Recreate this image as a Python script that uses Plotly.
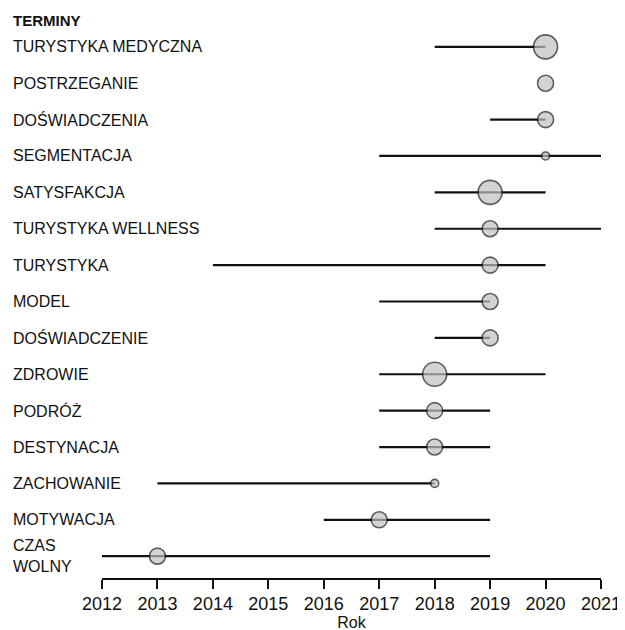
import plotly.graph_objects as go

terms = ["TURYSTYKA MEDYCZNA", "POSTRZEGANIE", "DOŚWIADCZENIA", "SEGMENTACJA",
         "SATYSFAKCJA", "TURYSTYKA WELLNESS", "TURYSTYKA", "MODEL",
         "DOŚWIADCZENIE", "ZDROWIE", "PODRÓŻ", "DESTYNACJA", "ZACHOWANIE",
         "MOTYWACJA", "CZAS<br>WOLNY"]
year_start = [2018, 2020, 2019, 2017, 2018, 2018, 2014, 2017, 2018, 2017, 2017, 2017, 2013, 2016, 2012]
year_end = [2020, 2020, 2020, 2021, 2020, 2021, 2020, 2019, 2019, 2020, 2019, 2019, 2018, 2019, 2019]
year_median = [2020, 2020, 2020, 2020, 2019, 2019, 2019, 2019, 2019, 2018, 2018, 2018, 2018, 2017, 2013]
freq = [12, 8, 8, 4, 12, 8, 8, 8, 8, 12, 8, 8, 4, 8, 8]
x_ticks = list(range(2012, 2022))

W, H = 625, 630
ml, mr, mt, mb = 94, 24, 17, 45
font = "Liberation Sans, Arial, sans-serif"

fig = go.Figure()
n = len(terms)
for i in range(n):
    fig.add_trace(go.Scatter(
        x=[year_start[i], year_end[i]], y=[i, i], mode="lines",
        line=dict(color="#111111", width=2.2), hoverinfo="skip", showlegend=False))

fig.add_trace(go.Scatter(
    x=year_median, y=list(range(n)), mode="markers",
    marker=dict(size=freq, sizemode="diameter", sizeref=0.5,
                color="#bfc1c2", line=dict(color="#1a1a1a", width=1.6)),
    hoverinfo="skip", showlegend=False, cliponaxis=False))

plot_w = W - ml - mr
plot_h = H - mt - mb
x_paper = (2 - ml) / plot_w
for i, t in enumerate(terms):
    fig.add_annotation(x=x_paper, xref="paper", y=i, yref="y", text=t,
                       showarrow=False, xanchor="left", yanchor="middle", align="left",
                       font=dict(family=font, size=16, color="#111111"))

fig.add_annotation(x=x_paper, xref="paper", y=1 + (mt - 12) / plot_h, yref="paper",
                   text="<b>TERMINY</b>", showarrow=False, xanchor="left", yanchor="middle",
                   font=dict(family=font, size=15, color="#111111"))

fig.update_layout(
    width=W, height=H,
    margin=dict(l=ml, r=mr, t=mt, b=mb),
    paper_bgcolor="white", plot_bgcolor="white",
    xaxis=dict(range=[2012, 2021], tickvals=x_ticks, ticktext=[str(v) for v in x_ticks],
               showgrid=False, zeroline=False, showline=True, linecolor="#111111", linewidth=1.5,
               ticks="outside", ticklen=9, tickwidth=1.5, tickcolor="#111111",
               tickfont=dict(family=font, size=18, color="#111111"),
               title=dict(text="Rok", font=dict(family=font, size=16, color="#111111"), standoff=0)),
    yaxis=dict(range=[n - 1 + 0.6, -0.6], showgrid=False, zeroline=False, showline=False,
               showticklabels=False, ticks=""),
    font=dict(family=font),
)

fig.write_html("out.html", config={"displayModeBar": False})
